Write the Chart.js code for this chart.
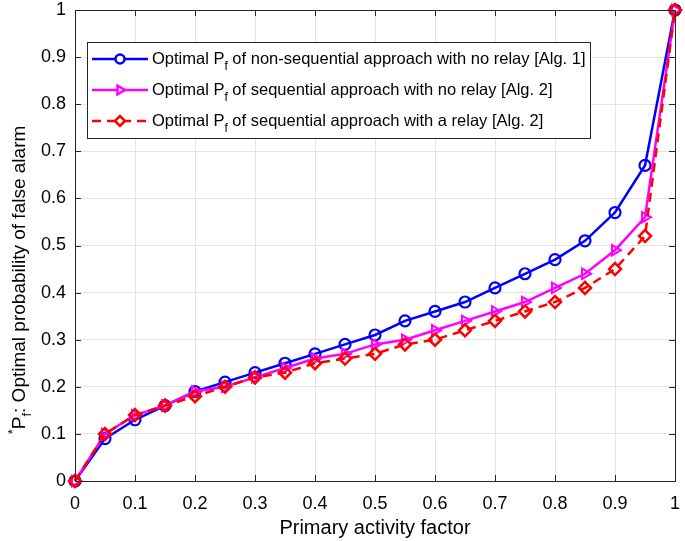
<!DOCTYPE html>
<html>
<head>
<meta charset="utf-8">
<script src="https://cdn.jsdelivr.net/npm/chart.js@4/dist/chart.umd.min.js"></script>
<style>
  html, body { margin: 0; padding: 0; background: #fff; }
  #wrap { width: 685px; height: 541px; }
</style>
</head>
<body>
<div id="wrap"><canvas id="pfChart" width="685" height="541"></canvas></div>
<script>
// activity factor on the x axis
const activity = [0, 0.05, 0.1, 0.15, 0.2, 0.25, 0.3, 0.35, 0.4, 0.45, 0.5,
  0.55, 0.6, 0.65, 0.7, 0.75, 0.8, 0.85, 0.9, 0.95, 1];

// Alg. 1, non-sequential, no relay
const pfNonSeq = [0, 0.09, 0.13, 0.16, 0.19, 0.21, 0.23, 0.25, 0.27, 0.29, 0.31,
  0.34, 0.36, 0.38, 0.41, 0.44, 0.47, 0.51, 0.57, 0.67, 1];
// Alg. 2, sequential, no relay
const pfSeq = [0, 0.10, 0.14, 0.16, 0.19, 0.20, 0.22, 0.24, 0.26, 0.27, 0.29,
  0.30, 0.32, 0.34, 0.36, 0.38, 0.41, 0.44, 0.49, 0.56, 1];
// Alg. 2, sequential, with a relay
const pfSeqRelay = [0, 0.10, 0.14, 0.16, 0.18, 0.20, 0.22, 0.23, 0.25, 0.26, 0.27,
  0.29, 0.30, 0.32, 0.34, 0.36, 0.38, 0.41, 0.45, 0.52, 1];

const seriesNames = [
  ['Optimal P', 'f', ' of non-sequential approach with no relay [Alg. 1]'],
  ['Optimal P', 'f', ' of sequential approach with no relay [Alg. 2]'],
  ['Optimal P', 'f', ' of sequential approach with a relay [Alg. 2]']
];
const xTicks = [0, 0.1, 0.2, 0.3, 0.4, 0.5, 0.6, 0.7, 0.8, 0.9, 1];
const yTicks = [0, 0.1, 0.2, 0.3, 0.4, 0.5, 0.6, 0.7, 0.8, 0.9, 1];

const FONT = '"Liberation Sans", Arial, Helvetica, sans-serif';

function toPts(ys) {
  return ys.map((y, i) => ({ x: activity[i], y: y }));
}

function fmt(v) {
  return v === 0 ? '0' : v === 1 ? '1' : String(v);
}

// box, inward ticks, titles and legend in the MATLAB style
const matlabFrame = {
  id: 'matlabFrame',
  afterDraw(chart) {
    const ctx = chart.ctx;
    const a = chart.chartArea;
    const xs = chart.scales.x, ys = chart.scales.y;
    ctx.save();
    ctx.strokeStyle = '#262626';
    ctx.lineWidth = 1;
    ctx.beginPath();
    xTicks.forEach(t => {
      const px = Math.round(xs.getPixelForValue(t)) + 0.5;
      ctx.moveTo(px, a.bottom); ctx.lineTo(px, a.bottom - 6);
      ctx.moveTo(px, a.top); ctx.lineTo(px, a.top + 6);
    });
    yTicks.forEach(t => {
      const py = Math.round(ys.getPixelForValue(t)) + 0.5;
      ctx.moveTo(a.left, py); ctx.lineTo(a.left + 6, py);
      ctx.moveTo(a.right, py); ctx.lineTo(a.right - 6, py);
    });
    ctx.stroke();
    ctx.strokeRect(Math.round(a.left) + 0.5, Math.round(a.top) + 0.5,
      Math.round(a.right - a.left), Math.round(a.bottom - a.top));

    // x title
    ctx.fillStyle = '#000';
    ctx.font = '20px ' + FONT;
    ctx.textAlign = 'center';
    ctx.textBaseline = 'middle';
    ctx.fillText('Primary activity factor', (a.left + a.right) / 2, 528);

    // y title with superscript * and subscript f
    ctx.save();
    ctx.translate(25, 280);
    ctx.rotate(-Math.PI / 2);
    ctx.textAlign = 'left';
    ctx.textBaseline = 'alphabetic';
    const big = '19px ' + FONT, small = '13px ' + FONT;
    ctx.font = big;
    const wP = ctx.measureText('P').width;
    const wRest = ctx.measureText(': Optimal probability of false alarm').width;
    ctx.font = small;
    const wStar = ctx.measureText('*').width, wF = ctx.measureText('f').width;
    let x = -(wStar + wP + wF + wRest) / 2;
    ctx.fillText('*', x, -8); x += wStar;
    ctx.font = big; ctx.fillText('P', x, 0); x += wP;
    ctx.font = small; ctx.fillText('f', x, 6); x += wF;
    ctx.font = big; ctx.fillText(': Optimal probability of false alarm', x, 0);
    ctx.restore();

    // legend
    const lx = 87, ly = 42, lw = 503, lh = 96;
    ctx.fillStyle = '#fff';
    ctx.fillRect(lx, ly, lw, lh);
    ctx.strokeStyle = '#262626';
    ctx.lineWidth = 1;
    ctx.strokeRect(lx + 0.5, ly + 0.5, lw, lh);
    chart.data.datasets.forEach((ds, i) => {
      const cy = 59 + i * 31;
      ctx.strokeStyle = ds.borderColor;
      ctx.lineWidth = ds.borderWidth;
      ctx.setLineDash(ds.borderDash || []);
      ctx.beginPath();
      ctx.moveTo(92, cy); ctx.lineTo(148, cy);
      ctx.stroke();
      ctx.setLineDash([]);
      ctx.fillStyle = '#fff';
      ctx.strokeStyle = ds.pointBorderColor;
      Chart.helpers.drawPoint(ctx, {
        pointStyle: ds.pointStyle, radius: ds.pointRadius - 1,
        rotation: ds.pointRotation || 0, borderWidth: ds.pointBorderWidth
      }, 120, cy);
      ctx.fillStyle = '#000';
      ctx.textAlign = 'left';
      ctx.textBaseline = 'middle';
      const parts = seriesNames[i];
      let tx = 152;
      ctx.font = '16.5px ' + FONT;
      ctx.fillText(parts[0], tx, cy); tx += ctx.measureText(parts[0]).width;
      ctx.font = '12px ' + FONT;
      ctx.fillText(parts[1], tx, cy + 8); tx += ctx.measureText(parts[1]).width;
      ctx.font = '16.5px ' + FONT;
      ctx.fillText(parts[2], tx, cy);
    });
    ctx.restore();
  }
};

const ctx = document.getElementById('pfChart').getContext('2d');
new Chart(ctx, {
  type: 'line',
  data: {
    datasets: [{
      label: 'non-sequential, no relay',
      data: toPts(pfNonSeq),
      borderColor: '#0000ff',
      borderWidth: 2.5,
      pointStyle: 'circle',
      pointRadius: 5.5,
      pointBorderWidth: 2.2,
      pointBackgroundColor: 'rgba(0,0,0,0)',
      pointBorderColor: '#0000ff',
      order: 3
    }, {
      label: 'sequential, no relay',
      data: toPts(pfSeq),
      borderColor: '#ff00ff',
      borderWidth: 2.5,
      pointStyle: 'triangle',
      pointRotation: 90,
      pointRadius: 6,
      pointBorderWidth: 2,
      pointBackgroundColor: 'rgba(0,0,0,0)',
      pointBorderColor: '#ff00ff',
      order: 2
    }, {
      label: 'sequential, with a relay',
      data: toPts(pfSeqRelay),
      borderColor: '#ff0000',
      borderWidth: 2.5,
      borderDash: [9, 6],
      pointStyle: 'rectRot',
      pointRadius: 6,
      pointBorderWidth: 2.5,
      pointBackgroundColor: 'rgba(0,0,0,0)',
      pointBorderColor: '#ff0000',
      order: 1
    }]
  },
  options: {
    responsive: false,
    animation: false,
    clip: false,
    layout: { padding: { top: 10, right: 10, left: 0, bottom: 0 } },
    plugins: { legend: { display: false }, tooltip: { enabled: false } },
    scales: {
      x: {
        type: 'linear', min: 0, max: 1,
        afterBuildTicks: s => { s.ticks = xTicks.map(v => ({ value: v })); },
        afterFit: s => { s.height = 60; s.paddingLeft = 0; s.paddingRight = 0; },
        grid: { color: '#e3e3e3', drawTicks: false },
        border: { display: false },
        ticks: { padding: 12, color: '#000', font: { family: FONT, size: 18 }, callback: v => fmt(v), maxRotation: 0 }
      },
      y: {
        min: 0, max: 1,
        afterBuildTicks: s => { s.ticks = yTicks.map(v => ({ value: v })); },
        afterFit: s => { s.width = 75; s.paddingTop = 0; s.paddingBottom = 0; },
        grid: { color: '#e3e3e3', drawTicks: false },
        border: { display: false },
        ticks: { padding: 9, color: '#000', font: { family: FONT, size: 18 }, callback: v => fmt(v) }
      }
    }
  },
  plugins: [matlabFrame]
});
</script>
</body>
</html>
